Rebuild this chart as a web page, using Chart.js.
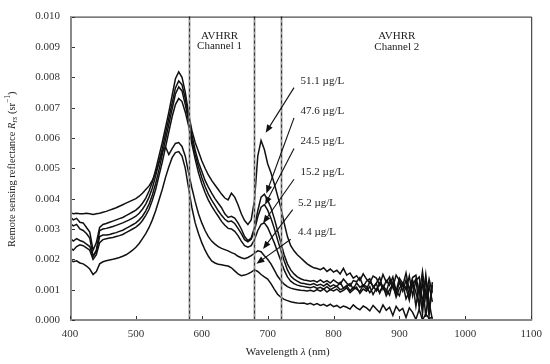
<!DOCTYPE html>
<html><head><meta charset="utf-8">
<script src="https://cdn.jsdelivr.net/npm/chart.js@4/dist/chart.umd.min.js"></script>
<style>html,body{margin:0;padding:0;background:#fff}</style>
</head><body>
<canvas id="c" width="550" height="364"></canvas>
<script>
// Wavelength (nm)
const wavelength = [
400,405,410,415,420,425,430,435,440,445,
450,455,460,465,470,475,480,485,490,495,
500,505,510,515,520,525,530,535,540,545,
550,555,560,565,570,575,580,585,590,595,
600,605,610,615,620,625,630,635,640,645,
650,655,660,665,670,675,680,685,690,695,
700,705,710,715,720,725,730,735,740,745,
750,755,760,765,770,775,780,785,790,795,
800,805,810,815,820,825,830,835,840,845,
850,855,860,865,870,875,880,885,890,895,
900,905,910,915,920,925,930,935,940,945,
950];
// Remote sensing reflectance, in units of 10^-3 sr^-1
const r51_1 = [
3.40,3.30,3.35,3.22,3.20,3.05,2.90,2.30,2.55,3.05,
3.15,3.18,3.22,3.26,3.30,3.34,3.38,3.44,3.50,3.56,
3.62,3.72,3.85,4.02,4.25,4.55,4.95,5.40,5.85,6.35,
6.85,7.40,7.95,8.18,8.00,7.50,6.80,6.25,5.85,5.55,
5.25,5.00,4.78,4.60,4.45,4.30,4.15,4.02,3.96,4.18,
4.05,3.80,3.50,3.28,3.15,3.30,3.95,5.40,5.92,5.62,
5.15,4.85,4.50,4.10,3.70,3.20,2.75,2.45,2.28,2.15,
2.05,1.95,1.85,1.78,1.72,1.70,1.66,1.72,1.60,1.68,
1.58,1.64,1.52,1.70,1.48,1.55,1.38,1.46,1.30,1.52,
1.35,1.22,1.45,1.38,1.15,1.50,1.25,1.42,1.08,1.48,
1.30,1.12,1.55,0.98,1.40,1.48,0.85,1.60,0.72,1.35,
0.90];
const r47_6 = [
3.20,3.10,3.15,3.00,2.95,2.85,2.70,2.10,2.30,2.95,
3.00,3.02,3.05,3.08,3.12,3.16,3.20,3.25,3.30,3.36,
3.42,3.52,3.65,3.82,4.05,4.35,4.75,5.20,5.65,6.15,
6.65,7.15,7.65,7.88,7.75,7.30,6.70,6.10,5.60,5.20,
4.90,4.60,4.38,4.18,4.00,3.85,3.70,3.50,3.38,3.42,
3.36,3.20,3.00,2.75,2.62,2.70,3.05,3.60,4.05,4.15,
3.95,3.70,3.35,2.95,2.55,2.15,1.85,1.65,1.52,1.42,
1.36,1.32,1.30,1.28,1.30,1.25,1.32,1.24,1.30,1.22,
1.32,1.24,1.18,1.35,1.22,1.12,1.30,1.26,1.40,1.10,
1.28,1.36,1.08,1.22,1.40,1.02,1.30,1.15,1.42,0.95,
1.38,1.20,1.00,1.45,0.80,1.30,1.42,0.55,1.48,0.30,
1.25];
const r24_5 = [
2.70,2.60,2.68,2.62,2.58,2.50,2.42,2.10,2.25,2.75,
2.80,2.80,2.82,2.85,2.88,2.92,2.96,3.02,3.08,3.14,
3.20,3.30,3.42,3.60,3.82,4.12,4.50,4.95,5.45,5.95,
6.45,6.95,7.45,7.68,7.55,7.10,6.55,5.95,5.45,5.05,
4.70,4.40,4.15,3.95,3.78,3.60,3.45,3.32,3.24,3.26,
3.18,3.02,2.85,2.65,2.58,2.66,2.95,3.40,3.72,3.80,
3.62,3.35,3.02,2.65,2.30,1.95,1.65,1.45,1.35,1.28,
1.22,1.20,1.18,1.16,1.20,1.14,1.18,1.12,1.20,1.10,
1.16,1.10,1.24,1.05,1.12,1.20,1.02,1.22,1.08,1.15,
1.00,1.26,1.12,0.96,1.22,1.05,0.92,1.30,1.10,0.85,
1.25,0.95,1.32,0.75,1.15,1.35,0.40,1.22,0.95,0.15,
1.15];
const r15_2 = [
2.40,2.30,2.42,2.48,2.45,2.38,2.30,2.00,2.15,2.55,
2.65,2.68,2.70,2.72,2.75,2.78,2.82,2.88,2.94,3.00,
3.06,3.15,3.28,3.45,3.65,3.95,4.30,4.75,5.20,5.70,
6.20,6.70,7.10,7.30,7.20,6.85,6.40,5.80,5.30,4.85,
4.50,4.20,3.95,3.75,3.58,3.42,3.25,3.12,3.02,3.00,
2.92,2.78,2.60,2.45,2.40,2.45,2.65,2.95,3.15,3.20,
3.05,2.80,2.55,2.25,1.95,1.65,1.42,1.28,1.20,1.15,
1.12,1.10,1.08,1.06,1.10,1.04,1.08,1.02,1.10,1.00,
1.06,1.12,1.00,1.04,1.14,0.96,1.08,1.02,0.94,1.16,
1.10,0.90,1.05,1.20,0.88,1.12,1.00,0.82,1.25,0.95,
0.80,1.22,1.05,0.65,1.30,0.90,0.50,1.28,0.10,1.15,
0.60];
const r5_2 = [
3.55,3.50,3.52,3.50,3.50,3.52,3.50,3.48,3.50,3.52,
3.55,3.58,3.62,3.66,3.70,3.75,3.80,3.85,3.90,3.95,
4.00,4.08,4.18,4.30,4.42,4.60,4.85,5.20,5.55,5.70,
5.45,5.65,5.82,5.85,5.72,5.40,4.85,4.35,3.90,3.50,
3.20,2.95,2.75,2.60,2.50,2.42,2.36,2.32,2.28,2.22,
2.18,2.10,2.05,2.02,2.06,2.12,2.20,2.28,2.25,2.12,
2.00,1.85,1.65,1.45,1.30,1.18,1.10,1.05,1.02,1.00,
0.98,0.97,0.96,0.98,0.94,1.00,0.95,1.02,0.92,1.00,
0.96,1.02,0.92,0.98,1.06,0.90,1.00,1.08,0.88,1.02,
0.95,1.10,0.84,1.04,0.92,1.14,0.80,1.00,1.18,0.75,
1.05,1.20,0.70,0.95,1.25,0.45,1.15,0.20,1.40,0.60,
0.00];
const r4_4 = [
2.00,1.92,1.95,1.88,1.85,1.78,1.68,1.50,1.60,1.85,
1.92,1.95,1.98,2.00,2.03,2.06,2.10,2.15,2.22,2.30,
2.40,2.52,2.68,2.85,3.05,3.30,3.60,3.95,4.30,4.70,
5.05,5.35,5.52,5.55,5.40,5.00,4.35,3.70,3.20,2.85,
2.55,2.30,2.10,1.95,1.88,1.84,1.82,1.80,1.78,1.72,
1.62,1.52,1.46,1.48,1.52,1.58,1.65,1.60,1.50,1.42,
1.35,1.20,1.02,0.85,0.75,0.68,0.64,0.60,0.58,0.56,
0.55,0.56,0.52,0.55,0.50,0.54,0.48,0.52,0.46,0.52,
0.44,0.48,0.40,0.46,0.42,0.36,0.50,0.40,0.34,0.46,
0.40,0.30,0.48,0.36,0.25,0.50,0.32,0.42,0.15,0.45,
0.30,0.38,0.08,0.40,0.25,0.02,0.35,0.00,0.20,0.05,
0.10];
const seriesNames = ['51.1 µg/L','47.6 µg/L','24.5 µg/L','15.2 µg/L','5.2 µg/L','4.4 µg/L'];
const xTicks = [400,500,600,700,800,900,1000,1100];
const yTicks = [0,0.001,0.002,0.003,0.004,0.005,0.006,0.007,0.008,0.009,0.010];
const channelLines = [580,680,720];
const channelNames = [['AVHRR','Channel 1'],['AVHRR','Channel 2']];

// annotation placement (data coordinates)
const channelLabelPos = [{x:627, y:[0.00937,0.00902]},{x:896, y:[0.00935,0.00899]}];
const concLabelPos = [
  {x:750, y:0.00786, from:[740,0.00766], tip:[697,0.00617]},
  {x:750, y:0.00688, from:[740,0.00666], tip:[698,0.00417]},
  {x:750, y:0.00588, from:[740,0.00565], tip:[696,0.00380]},
  {x:750, y:0.00487, from:[740,0.00464], tip:[693,0.00319]},
  {x:746, y:0.00386, from:[738,0.00364], tip:[693,0.00234]},
  {x:746, y:0.00289, from:[735,0.00266], tip:[683,0.00185]}
];

const FONT = 'Liberation Serif';
const series = [r51_1, r47_6, r24_5, r15_2, r5_2, r4_4];
const datasets = series.map((arr,i)=>({
  label: seriesNames[i],
  data: wavelength.map((w,j)=>({x:w, y:arr[j]/1000})),
  borderColor:'#111', borderWidth:1.5, pointRadius:0, fill:false, tension:0
}));

function richText(ctx, parts, cx, cy){
  let w=0;
  parts.forEach(p=>{ctx.font=p.font; p.w=ctx.measureText(p.t).width; w+=p.w;});
  let xx=cx-w/2;
  ctx.textAlign='left'; ctx.textBaseline='middle';
  parts.forEach(p=>{ctx.font=p.font; ctx.fillText(p.t, xx, cy+(p.dy||0)); xx+=p.w;});
}

const overlay = {
  id:'overlay',
  afterDatasetsDraw(chart){
    const {ctx, chartArea:a, scales:{x,y}} = chart;
    ctx.save();
    // AVHRR channel boundaries
    channelLines.forEach(w=>{
      const px = Math.round(x.getPixelForValue(w))+0.5;
      ctx.setLineDash([]); ctx.strokeStyle='#a0a0a0'; ctx.lineWidth=2;
      ctx.beginPath(); ctx.moveTo(px,a.top); ctx.lineTo(px,a.bottom); ctx.stroke();
      ctx.setLineDash([3,3]); ctx.strokeStyle='#333'; ctx.lineWidth=1;
      ctx.beginPath(); ctx.moveTo(px,a.top); ctx.lineTo(px,a.bottom); ctx.stroke();
    });
    ctx.setLineDash([]);
    // frame
    ctx.strokeStyle='#222'; ctx.lineWidth=1;
    ctx.beginPath(); ctx.moveTo(a.left,a.top+0.5); ctx.lineTo(a.right+0.5,a.top+0.5); ctx.lineTo(a.right+0.5,a.bottom); ctx.stroke();
    ctx.strokeStyle='#8a8a8a'; ctx.lineWidth=2;
    ctx.beginPath(); ctx.moveTo(a.left+1,a.top); ctx.lineTo(a.left+1,a.bottom); ctx.lineTo(a.right+1,a.bottom); ctx.stroke();
    // inward ticks
    ctx.strokeStyle='#333'; ctx.lineWidth=1;
    yTicks.forEach(v=>{const py=Math.round(y.getPixelForValue(v))+0.5; ctx.beginPath(); ctx.moveTo(a.left+2,py); ctx.lineTo(a.left+5,py); ctx.stroke();});
    xTicks.forEach(v=>{const px=Math.round(x.getPixelForValue(v))+0.5; ctx.beginPath(); ctx.moveTo(px,a.bottom-1); ctx.lineTo(px,a.bottom-4); ctx.stroke();});
    // channel labels
    ctx.fillStyle='#222'; ctx.font='11px '+FONT; ctx.textAlign='center'; ctx.textBaseline='middle';
    channelNames.forEach((lines,i)=>{
      const p=channelLabelPos[i];
      lines.forEach((t,k)=>ctx.fillText(t, x.getPixelForValue(p.x), y.getPixelForValue(p.y[k])));
    });
    // concentration labels + arrows
    concLabelPos.forEach((p,i)=>{
      ctx.font='11px '+FONT; ctx.textAlign='left'; ctx.textBaseline='middle'; ctx.fillStyle='#222';
      ctx.fillText(seriesNames[i], x.getPixelForValue(p.x), y.getPixelForValue(p.y));
      const x0=x.getPixelForValue(p.from[0]), y0=y.getPixelForValue(p.from[1]);
      const x1=x.getPixelForValue(p.tip[0]), y1=y.getPixelForValue(p.tip[1]);
      const ang=Math.atan2(y1-y0,x1-x0), L=8, H=3.2;
      ctx.strokeStyle='#111'; ctx.lineWidth=1.1;
      ctx.beginPath(); ctx.moveTo(x0,y0); ctx.lineTo(x1-Math.cos(ang)*L*0.8, y1-Math.sin(ang)*L*0.8); ctx.stroke();
      ctx.fillStyle='#111';
      ctx.beginPath(); ctx.moveTo(x1,y1);
      ctx.lineTo(x1-Math.cos(ang)*L-Math.sin(ang)*H, y1-Math.sin(ang)*L+Math.cos(ang)*H);
      ctx.lineTo(x1-Math.cos(ang)*L+Math.sin(ang)*H, y1-Math.sin(ang)*L-Math.cos(ang)*H);
      ctx.closePath(); ctx.fill();
    });
    // axis titles
    ctx.fillStyle='#222';
    richText(ctx,[
      {t:'Wavelength ', font:'11px '+FONT},
      {t:'λ', font:'italic 11px '+FONT},
      {t:' (nm)', font:'11px '+FONT}
    ], a.left+(a.right-a.left)*0.472, 352);
    ctx.translate(12,(a.top+a.bottom)/2+1);
    ctx.rotate(-Math.PI/2);
    richText(ctx,[
      {t:'Remote sensing reflectance ', font:'10.5px '+FONT},
      {t:'R', font:'italic 10.5px '+FONT},
      {t:'rs', font:'italic 7.5px '+FONT, dy:3},
      {t:' (sr', font:'10.5px '+FONT},
      {t:'−1', font:'7.5px '+FONT, dy:-3.5},
      {t:')', font:'10.5px '+FONT}
    ],0,0);
    ctx.restore();
  }
};

new Chart(document.getElementById('c'), {
  type:'line',
  data:{datasets},
  plugins:[overlay],
  options:{
    responsive:false, animation:false, devicePixelRatio:1,
    layout:{padding:{left:0,right:14,top:12,bottom:0}},
    plugins:{legend:{display:false}, tooltip:{enabled:false}},
    scales:{
      x:{type:'linear', min:400, max:1100,
        grid:{display:false, drawTicks:false}, border:{display:false},
        afterBuildTicks:s=>{s.ticks=xTicks.map(v=>({value:v}));},
        afterFit:s=>{s.height=44;},
        ticks:{padding:8, color:'#333', font:{family:FONT, size:11}, maxRotation:0, autoSkip:false, callback:v=>String(v)}},
      y:{type:'linear', min:0, max:0.010,
        grid:{display:false, drawTicks:false}, border:{display:false},
        afterBuildTicks:s=>{s.ticks=yTicks.map(v=>({value:v}));},
        afterFit:s=>{s.width=70;},
        ticks:{padding:10, color:'#333', font:{family:FONT, size:11}, autoSkip:false, callback:v=>Number(v).toFixed(3)}}
    }
  }
});
</script>
</body></html>
